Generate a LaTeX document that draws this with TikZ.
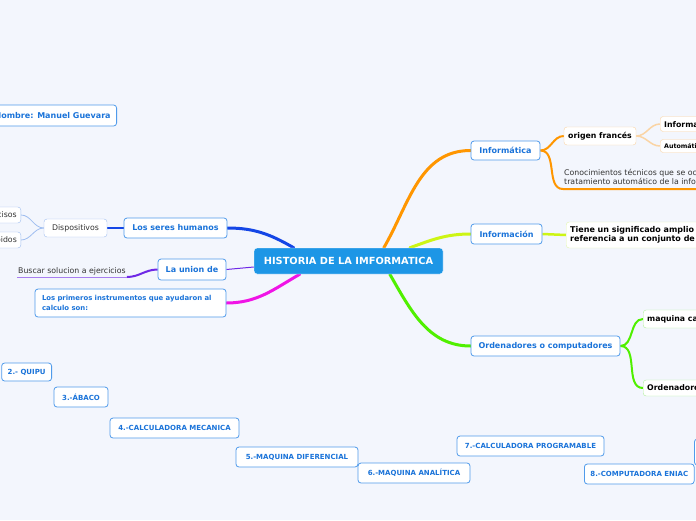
\documentclass[tikz,border=0pt]{standalone}
\usepackage{fontspec}
\setmainfont{DejaVu Sans}
\usetikzlibrary{positioning,backgrounds}
\pgfdeclarelayer{background}
\pgfsetlayers{background,main}
\definecolor{paper}{RGB}{243,246,253}
\definecolor{rootblue}{RGB}{29,150,230}
\definecolor{topicblue}{RGB}{26,115,217}
\definecolor{frameblue}{RGB}{80,155,235}
\definecolor{paleblue}{RGB}{160,190,240}
\definecolor{branchorange}{RGB}{255,150,0}
\definecolor{peach}{RGB}{250,212,165}
\definecolor{branchlime}{RGB}{205,245,20}
\definecolor{palelime}{RGB}{225,245,175}
\definecolor{branchgreen}{RGB}{80,240,0}
\definecolor{palegreen}{RGB}{175,240,155}
\definecolor{branchblue}{RGB}{20,70,230}
\definecolor{branchpurple}{RGB}{110,40,230}
\definecolor{branchpink}{RGB}{240,20,230}

\begin{document}
\begin{tikzpicture}[
  x=1pt, y=-1pt,
  every node/.style={font=\fontsize{8}{9}\selectfont},
  root/.style={fill=rootblue, draw=white, rounded corners=3pt,
    text=white, font=\fontsize{9.8}{11}\selectfont\bfseries,
    minimum height=26pt, minimum width=189pt, inner xsep=6pt},
  topic/.style={draw=frameblue, fill=white, rounded corners=3pt,
    text=topicblue, font=\fontsize{8}{9}\selectfont\bfseries,
    minimum height=20pt, inner xsep=6pt, line width=0.8pt},
  item/.style={draw=frameblue, fill=white, rounded corners=3pt,
    text=topicblue, font=\fontsize{7}{8}\selectfont\bfseries,
    minimum height=20pt, inner xsep=6pt, line width=0.8pt},
  leaf/.style={draw=paleblue, fill=white, rounded corners=3pt,
    text=black!80, font=\fontsize{7.8}{8}\selectfont,
    minimum height=17pt, inner xsep=4pt},
  subtopic/.style={fill=white, rounded corners=3pt,
    text=black, font=\fontsize{7.8}{9}\selectfont\bfseries,
    minimum height=18pt, inner xsep=4pt},
  plain/.style={text=black!80, font=\fontsize{7.8}{9.6}\selectfont,
    inner sep=1pt, align=left},
  branch/.style={line width=3pt, line cap=round},
]

\begin{pgfonlayer}{background}
\fill[paper] (0,0) rectangle (696,520);
\end{pgfonlayer}
\useasboundingbox (0,0) rectangle (696,520);

% centre
\node[root] at (348.5,261) (hist) {HISTORIA DE LA IMFORMATICA};

% left side
\node[topic, anchor=east, minimum height=21pt] at (117,115.5) (nombre) {Nombre: Manuel Guevara};
\node[topic, minimum width=103pt] at (175.5,228) (seres) {Los seres humanos};
\node[leaf, minimum width=63pt, minimum height=18pt] at (75.5,228) (dispo) {Dispositivos};
\node[leaf, anchor=east, minimum height=16pt] at (21,215) (precisos) {Precisos};
\node[leaf, anchor=east, minimum height=16pt] at (21,240) (rapidos) {Rápidos};
\node[topic, minimum width=68pt, minimum height=21pt] at (192,269.5) (union) {La union de};
\node[plain, anchor=south west, inner ysep=2pt] at (17,277) (buscar) {Buscar solucion a ejercicios};
\node[item, minimum width=191pt, minimum height=28pt, align=left,
  font=\fontsize{6.9}{10}\selectfont\bfseries, text width=177pt] at (130.5,303) (primeros)
  {Los primeros instrumentos que ayudaron al\\calculo son:};

% instruments
\node[item, anchor=east, minimum height=18pt] at (52,372) (quipu) {2.- QUIPU};
\node[item, minimum width=54pt] at (81,397) (abaco) {3.-ÁBACO};
\node[item, minimum width=129pt] at (174.5,428) (mecanica) {4.-CALCULADORA MECANICA};
\node[item, minimum width=122pt] at (297,457) (diferencial) {5.-MAQUINA DIFERENCIAL};
\node[item, minimum width=112pt] at (414,473) (analitica) {6.-MAQUINA ANALÍTICA};
\node[item, minimum width=147pt] at (530.5,446) (programable) {7.-CALCULADORA PROGRAMABLE};
\node[item, anchor=west] at (584,474) (eniac) {8.-COMPUTADORA ENIAC};
\node[item, anchor=west, minimum width=40pt, minimum height=26pt] at (694,452) (siguiente) {};

% right side
\node[topic, minimum width=69pt, minimum height=19pt] at (505.5,150.5) (informatica) {Informática};
\node[subtopic, draw=peach, minimum width=72pt] at (600,136) (origen) {origen francés};
\node[subtopic, draw=peach, anchor=west, minimum height=15pt] at (660,124) (inform) {Información};
\node[subtopic, draw=peach, anchor=west, minimum height=13pt,
  font=\fontsize{6.3}{7}\selectfont\bfseries] at (660,146) (autom) {Automática};
\node[plain, anchor=south west, inner ysep=4pt] at (563,189) (conoc)
  {Conocimientos técnicos que se ocupan del\\tratamiento automático de la información};

\node[topic, minimum width=71pt] at (506.5,234) (informacion) {Información};
\node[subtopic, draw=palelime, anchor=west, minimum height=26pt, align=left,
  font=\fontsize{8}{9}\selectfont\bfseries] at (566,235) (tiene)
  {Tiene un significado amplio que hace\\referencia a un conjunto de datos};

\node[topic, minimum width=149pt] at (545.5,346) (ordenadores) {Ordenadores o computadores};
\node[subtopic, draw=palegreen, anchor=west] at (643,319) (maquina) {maquina calculadora};
\node[subtopic, draw=palegreen, anchor=west, minimum height=16pt] at (643,388) (ordena) {Ordenadores};

\begin{pgfonlayer}{background}
\draw[branch, branchorange] ([xshift=130pt]hist.north west) to[out=60,in=180] (informatica.west);
\draw[branchorange, line width=2pt] (informatica.east) to[out=0,in=180] (origen.west);
\draw[branchorange, line width=2pt] (informatica.east) to[out=0,in=180] (conoc.south west) -- (conoc.south east);
\draw[peach, line width=1.5pt] (origen.east) to[out=0,in=180] (inform.west);
\draw[peach, line width=1.5pt] (origen.east) to[out=0,in=180] (autom.west);
\draw[branch, branchlime] ([xshift=156pt]hist.north west) to[out=20,in=180] (informacion.west);
\draw[branchlime, line width=2.5pt] (informacion.east) -- (tiene.west);
\draw[branch, branchgreen] ([xshift=136pt]hist.south west) to[out=-60,in=180] (ordenadores.west);
\draw[branchgreen, line width=2pt] (ordenadores.east) to[out=0,in=180] (maquina.west);
\draw[branchgreen, line width=2pt] (ordenadores.east) to[out=0,in=180] (ordena.west);
\draw[branch, branchblue] ([xshift=40pt]hist.north west) to[out=150,in=0] (seres.east);
\draw[branchblue, line width=2.5pt] (seres.west) -- (dispo.east);
\draw[paleblue, line width=0.8pt] (dispo.west) to[out=180,in=0] (precisos.east);
\draw[paleblue, line width=0.8pt] (dispo.west) to[out=180,in=0] (rapidos.east);
\draw[branchpurple, line width=1pt] ([yshift=-6pt]hist.west) -- (union.east);
\draw[branchpurple, line width=2pt] (union.west) to[out=180,in=0] (buscar.south east);
\draw[branchpurple!60, line width=0.8pt] (buscar.south east) -- (buscar.south west);
\draw[branch, branchpink] ([xshift=46pt]hist.south west) to[out=-150,in=0] (primeros.east);
\end{pgfonlayer}
\end{tikzpicture}
\end{document}
